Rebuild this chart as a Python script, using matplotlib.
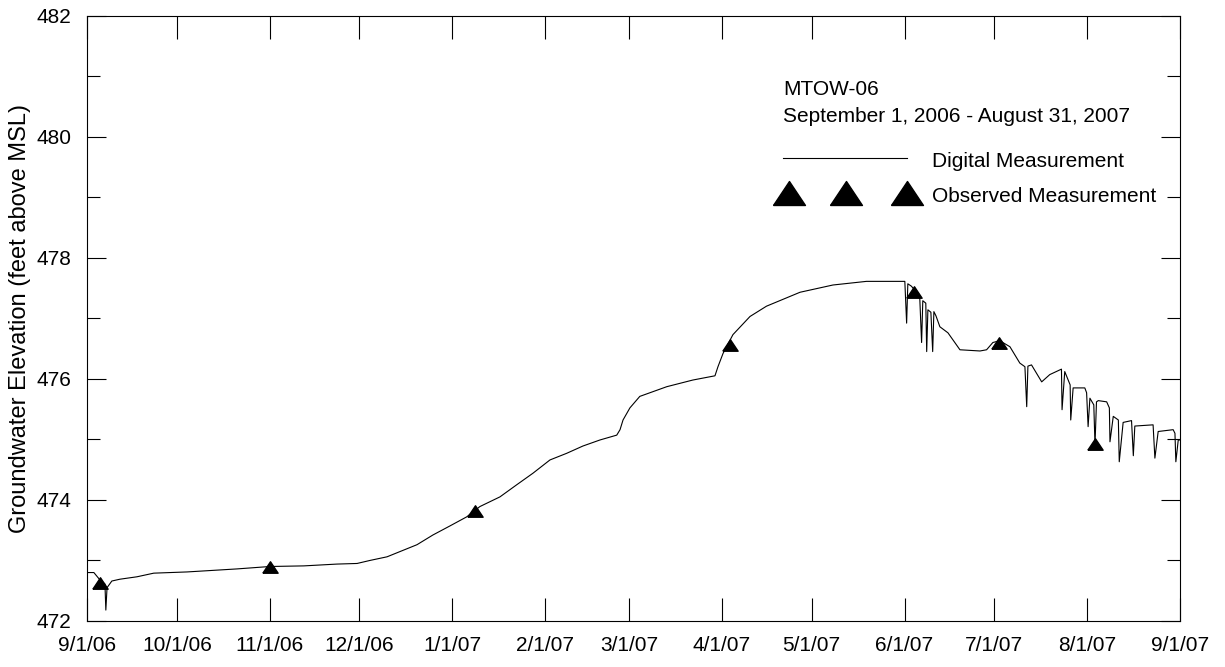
import pandas as pd
import matplotlib.pyplot as plt
from matplotlib.ticker import FixedLocator

plt.rcParams['font.family'] = ['Liberation Sans', 'DejaVu Sans']

start = pd.Timestamp('2006-09-01')

# digital record (days since 9/1/06, feet above MSL)
digital_days = [
    0.0, 2.3, 4.3, 6.0, 6.3, 6.7, 8.3, 11.0, 16.7, 22.3, 33.4, 40.1, 50.1,
    61.1, 72.4, 83.5, 90.2, 94.5, 100.2, 105.7, 110.2,
    115.5, 121.2, 126.8, 131.2, 137.9, 143.5, 148.9, 154.6, 160.2, 165.6,
    171.3, 176.9, 178.0, 179.0, 181.3, 184.6, 193.6, 202.3, 209.7, 210.7,
    212.4, 215.7, 221.4, 226.9, 238.1, 249.1, 260.3, 273.1,
    273.7, 274.1, 275.3, 277.5, 278.1, 278.7, 279.1, 280.1, 280.4, 280.8,
    281.8, 282.4, 282.8, 283.5, 284.8, 287.5, 291.5, 298.2, 300.4, 302.5,
    304.8, 308.2, 311.5, 313.2, 313.8, 314.2, 315.4, 318.8, 321.5, 325.4,
    325.6, 326.5, 328.3, 328.5, 329.3, 333.2, 333.8, 334.3, 334.9, 336.2,
    336.6, 337.1, 337.7, 340.5, 341.4, 341.6, 342.7, 344.4, 344.7, 346.0,
    348.8, 349.4, 349.9, 356.0, 356.6, 357.7, 362.7, 363.3, 363.6, 364.4,
    365.0,
]
digital_level = [
    472.80, 472.80, 472.68, 472.61, 472.18, 472.55, 472.66, 472.69, 472.73,
    472.79, 472.81, 472.83, 472.86, 472.90, 472.91, 472.94, 472.95, 473.00,
    473.06, 473.17, 473.26,
    473.42, 473.57, 473.72, 473.89, 474.05, 474.25, 474.44, 474.66, 474.77,
    474.89, 474.99, 475.07, 475.16, 475.32, 475.52, 475.71, 475.87, 475.98,
    476.05, 476.20, 476.42, 476.73, 477.03, 477.20, 477.43, 477.55, 477.61,
    477.61,
    476.92, 477.57, 477.53, 477.40, 477.32, 476.60, 477.29, 477.25, 476.45,
    477.14, 477.10, 476.45, 477.11, 477.04, 476.86, 476.76, 476.48, 476.46,
    476.48, 476.60, 476.63, 476.53, 476.26, 476.20, 475.54, 476.21, 476.23,
    475.95, 476.07, 476.16, 475.49, 476.12, 475.90, 475.32, 475.85, 475.85,
    475.77, 475.21, 475.68, 475.57, 474.91, 475.62, 475.64, 475.62, 475.52,
    474.96, 475.38, 475.32, 474.63, 475.28, 475.31, 474.73, 475.22, 475.24,
    474.69, 475.13, 475.16, 475.10, 474.63, 474.99, 474.99,
]

# hand measurements
observed_days = [4.3, 61.0, 129.5, 214.7, 276.0, 304.5, 336.6]
observed_level = [472.63, 472.89, 473.82, 476.56, 477.43, 476.60, 474.92]

month_ticks = pd.date_range('2006-09-01', '2007-09-01', freq='MS')
month_labels = ['9/1/06', '10/1/06', '11/1/06', '12/1/06', '1/1/07', '2/1/07',
                '3/1/07', '4/1/07', '5/1/07', '6/1/07', '7/1/07', '8/1/07',
                '9/1/07']

dig_t = start + pd.to_timedelta(digital_days, unit='D')
obs_t = start + pd.to_timedelta(observed_days, unit='D')

tri = [(-1, -0.75), (1, -0.75), (0, 0.75), (-1, -0.75)]

fig = plt.figure(figsize=(12.25, 6.67), dpi=100)
ax = fig.add_axes([0.0710, 0.069, 0.8923, 0.9076])

ax.plot(dig_t, digital_level, color='black', lw=0.8)
ax.plot(obs_t, observed_level, ls='none', marker=tri, ms=11, color='black')

ax.set_xlim(month_ticks[0], month_ticks[-1])
ax.set_ylim(472, 482)
ax.set_xticks(month_ticks)
ax.set_xticklabels(month_labels)
ax.set_yticks([472, 474, 476, 478, 480, 482])
ax.yaxis.set_minor_locator(FixedLocator([473, 475, 477, 479, 481]))

ax.tick_params(axis='x', which='major', direction='in', top=True, length=16.5,
               width=0.8, labelsize=15, pad=11)
ax.tick_params(axis='y', which='major', direction='in', right=True, length=13.7,
               width=0.8, labelsize=15, pad=11)
ax.tick_params(axis='y', which='minor', direction='in', right=True, length=9.4,
               width=0.8)
for s in ax.spines.values():
    s.set_linewidth(0.8)

ax.set_ylabel('Groundwater Elevation (feet above MSL)', fontsize=17, labelpad=4)

# legend block drawn by hand, like the original
ax.text(0.6368, 0.869, 'MTOW-06', transform=ax.transAxes, fontsize=15,
        va='baseline')
ax.text(0.6368, 0.825, 'September 1, 2006 - August 31, 2007',
        transform=ax.transAxes, fontsize=15, va='baseline')
ax.plot([0.6368, 0.7502], [0.7654, 0.7654], color='black', lw=0.8,
        transform=ax.transAxes)
ax.text(0.7728, 0.7496, 'Digital Measurement', transform=ax.transAxes,
        fontsize=15, va='baseline')
ax.plot([0.6423, 0.6944, 0.7502], [0.7066] * 3, ls='none', marker=tri, ms=23,
        color='black', transform=ax.transAxes)
ax.text(0.7728, 0.6927, 'Observed Measurement', transform=ax.transAxes,
        fontsize=15, va='baseline')

fig.savefig('out.png', dpi=100)
